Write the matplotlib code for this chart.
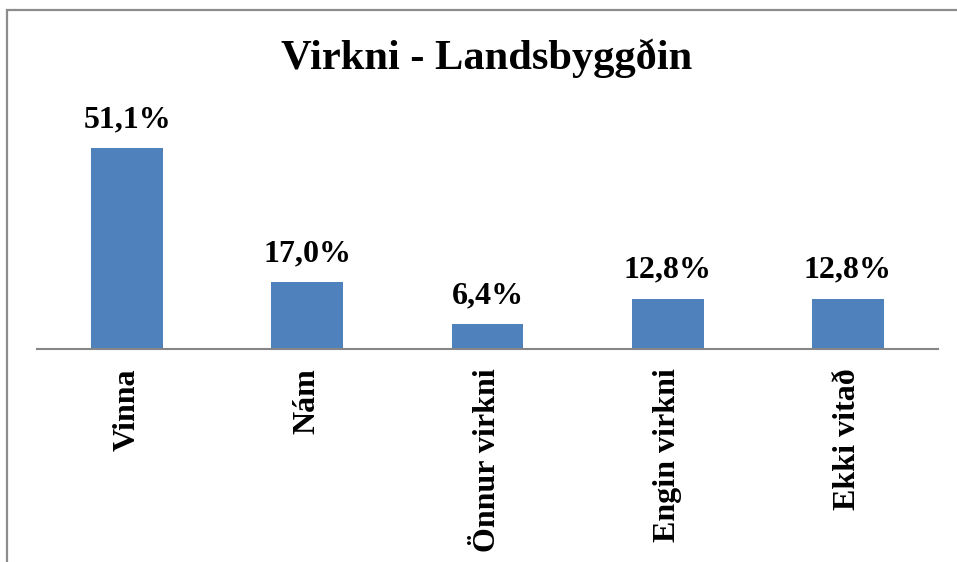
import matplotlib
matplotlib.use("Agg")
import matplotlib.pyplot as plt
from matplotlib.patches import Rectangle

categories = ["Vinna", "Nám", "Önnur virkni", "Engin virkni", "Ekki vitað"]
values = [51.1, 17.0, 6.4, 12.8, 12.8]
labels = ["51,1%", "17,0%", "6,4%", "12,8%", "12,8%"]
title = "Virkni - Landsbyggðin"

W, H = 957, 562
fig = plt.figure(figsize=(W / 100, H / 100), dpi=100)
plt.rcParams['font.family'] = ['Liberation Serif', 'DejaVu Serif']

# chart area border (extends beyond the visible crop on right and bottom)
fig.patches.append(Rectangle((7 / W, -1.0), 2.0, 1.0 + (H - 10) / H, transform=fig.transFigure,
                             fill=False, edgecolor='#8c8c8c', linewidth=1.6, clip_on=False))

left, right, bottom = 37, 938, 349
ymax = 60
top = bottom - ymax * 3.93
ax = fig.add_axes([left / W, 1 - bottom / H, (right - left) / W, (bottom - top) / H])
ax.bar(range(len(values)), values, width=0.398, color='#4F81BD')
ax.set_xlim(-0.5, len(values) - 0.5)
ax.set_ylim(0, ymax)
for s in ['top', 'right', 'left']:
    ax.spines[s].set_visible(False)
ax.spines['bottom'].set_color('#868686')
ax.spines['bottom'].set_linewidth(1.5)
ax.set_yticks([])
ax.set_xticks(range(len(values)))
ax.set_xticklabels(categories, rotation=90, fontsize=23, fontweight='bold')
ax.tick_params(axis='x', length=0, pad=14)
ax.patch.set_visible(False)

for i, (v, lab) in enumerate(zip(values, labels)):
    ax.annotate(lab, (i, v), xytext=(0, 10), textcoords='offset points',
                ha='center', va='bottom', fontsize=23, fontweight='bold')

fig.text(487 / W, 1 - 69 / H, title, ha='center', va='baseline', fontsize=30.6, fontweight='bold')

fig.savefig("out.png", dpi=100)
